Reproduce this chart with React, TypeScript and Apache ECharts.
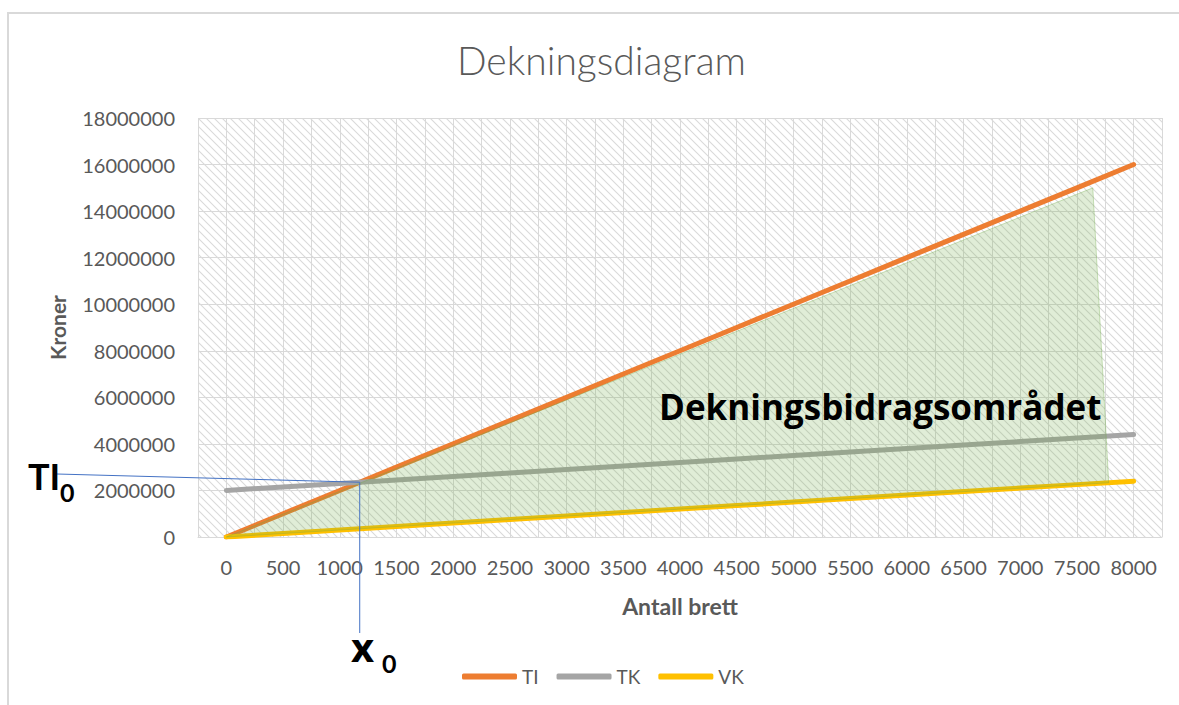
import React, { useEffect, useRef } from "react";
import * as echarts from "echarts";

const categories = [0, 500, 1000, 1500, 2000, 2500, 3000, 3500, 4000, 4500, 5000, 5500, 6000, 6500, 7000, 7500, 8000];
const tiValues = [0, 1000000, 2000000, 3000000, 4000000, 5000000, 6000000, 7000000, 8000000, 9000000, 10000000, 11000000, 12000000, 13000000, 14000000, 15000000, 16000000];
const tkValues = [2000000, 2150000, 2300000, 2450000, 2600000, 2750000, 2900000, 3050000, 3200000, 3350000, 3500000, 3650000, 3800000, 3950000, 4100000, 4250000, 4400000];
const vkValues = [0, 150000, 300000, 450000, 600000, 750000, 900000, 1050000, 1200000, 1350000, 1500000, 1650000, 1800000, 1950000, 2100000, 2250000, 2400000];
const areaX = [0, 7640, 7780];
const areaY = [0, 15000000, 2330000];
const breakEven = [1176, 2353000];

const FONT = "Lato, 'Open Sans', sans-serif";
const BOLD_FONT = "'Open Sans', Lato, sans-serif";

export default function App() {
  const ref = useRef<HTMLDivElement>(null);
  useEffect(() => {
    document.body.style.margin = "0";
    const chart = echarts.init(ref.current!, null, { renderer: "svg" });
    const cv = document.createElement("canvas");
    cv.width = 8;
    cv.height = 8;
    const ctx = cv.getContext("2d")!;
    ctx.fillStyle = "#ffffff";
    ctx.fillRect(0, 0, 8, 8);
    ctx.strokeStyle = "#dadada";
    ctx.lineWidth = 1.1;
    ctx.beginPath();
    ctx.moveTo(-1, -1);
    ctx.lineTo(9, 9);
    ctx.moveTo(-1, 7);
    ctx.lineTo(1, 9);
    ctx.moveTo(7, -1);
    ctx.lineTo(9, 1);
    ctx.stroke();

    const mk = (name: string, vals: number[], color: string) => ({
      name,
      type: "line",
      data: categories.map((c, i) => [c, vals[i]]),
      symbol: "none",
      lineStyle: { color, width: 5, cap: "round" },
      itemStyle: { color },
      z: 3,
    });

    chart.setOption({
      animation: false,
      textStyle: { fontFamily: FONT },
      title: {
        text: "Dekningsdiagram",
        left: 452,
        top: 35,
        textStyle: { fontSize: 39, fontWeight: 300, color: "#595959", fontFamily: FONT },
      },
      grid: {
        left: 198,
        right: 17,
        top: 118,
        bottom: 168,
        show: true,
        borderWidth: 0,
        backgroundColor: { image: cv, repeat: "repeat", imageWidth: 8, imageHeight: 8 },
      },
      legend: {
        left: 457,
        top: 662,
        data: ["TI", "TK", "VK"],
        icon: "roundRect",
        itemWidth: 55,
        itemHeight: 6,
        itemGap: 18,
        textStyle: { fontSize: 19, color: "#595959", fontFamily: FONT },
      },
      xAxis: {
        type: "value",
        min: -250,
        max: 8250,
        interval: 250,
        name: "Antall brett",
        nameLocation: "middle",
        nameGap: 57,
        nameTextStyle: { fontSize: 23, fontWeight: "bold", color: "#595959", fontFamily: FONT },
        axisLine: { show: true, lineStyle: { color: "#d9d9d9", width: 1 } },
        axisTick: { show: false },
        splitLine: { show: true, lineStyle: { color: "#d9d9d9", width: 1 } },
        axisLabel: {
          fontSize: 20,
          color: "#595959",
          margin: 20,
          formatter: (v: number) => (v >= 0 && v <= 8000 && v % 500 === 0 ? String(v) : ""),
        },
      },
      yAxis: {
        type: "value",
        min: 0,
        max: 18000000,
        interval: 2000000,
        name: "Kroner",
        nameLocation: "middle",
        nameRotate: 90,
        nameGap: 130,
        nameTextStyle: { fontSize: 21, fontWeight: "bold", color: "#595959", fontFamily: FONT },
        axisLine: { show: false },
        axisTick: { show: false },
        splitLine: { show: true, lineStyle: { color: "#d9d9d9", width: 1 } },
        axisLabel: { fontSize: 20, color: "#595959", margin: 23, formatter: (v: number) => String(v) },
      },
      series: [
        mk("TI", tiValues, "#ED7D31"),
        mk("TK", tkValues, "#A5A5A5"),
        mk("VK", vkValues, "#FFC000"),
        {
          name: "area",
          type: "custom",
          data: [[0, 0]],
          z: 5,
          silent: true,
          renderItem: (params: any, api: any) => ({
            type: "polygon",
            shape: { points: areaX.map((x, i) => api.coord([x, areaY[i]])) },
            style: { fill: "rgba(112,173,71,0.22)", stroke: "rgba(112,173,71,0.35)", lineWidth: 1 },
          }),
        },
      ],
    });

    const p = chart.convertToPixel({ gridIndex: 0 }, breakEven) as number[];
    chart.setOption({
      graphic: [
        { type: "rect", shape: { x: 8, y: 13, width: 1200, height: 800 }, style: { fill: "none", stroke: "#d9d9d9", lineWidth: 2 }, z: 0 },
        { type: "line", shape: { x1: 57, y1: 474, x2: p[0], y2: p[1] }, style: { stroke: "#4472C4", lineWidth: 1 }, z: 10 },
        { type: "line", shape: { x1: p[0], y1: p[1], x2: p[0], y2: 633 }, style: { stroke: "#4472C4", lineWidth: 1 }, z: 10 },
        { type: "text", x: 28, y: 476, style: { text: "TI", font: `bold 36px ${FONT}`, fill: "#000", textVerticalAlign: "middle" }, z: 10 },
        { type: "text", x: 60, y: 492, style: { text: "0", font: `bold 25px ${FONT}`, fill: "#000", textVerticalAlign: "middle" }, z: 10 },
        { type: "text", x: 351, y: 646, style: { text: "x", font: `bold 40px ${BOLD_FONT}`, fill: "#000", textVerticalAlign: "middle" }, z: 10 },
        { type: "text", x: 382, y: 663, style: { text: "0", font: `bold 25px ${FONT}`, fill: "#000", textVerticalAlign: "middle" }, z: 10 },
        { type: "text", x: 659, y: 406, style: { text: "Dekningsbidragsområdet", font: `bold 35px ${BOLD_FONT}`, fill: "#000", textVerticalAlign: "middle" }, z: 10 },
      ],
    });
    return () => chart.dispose();
  }, []);
  return <div ref={ref} style={{ width: 1179, height: 705 }} />;
}
